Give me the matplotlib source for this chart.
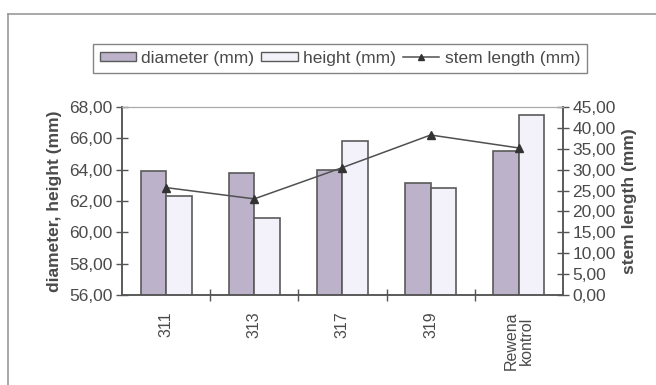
import matplotlib.pyplot as plt
import numpy as np
from matplotlib.lines import Line2D
from matplotlib.patches import Patch
from matplotlib.ticker import FuncFormatter, FixedLocator

plt.rcParams['font.family'] = ['Liberation Sans', 'DejaVu Sans']

categories = ['311', '313', '317', '319', 'Rewena\nkontrol']
diameter = [63.9, 63.8, 63.95, 63.15, 65.2]
height = [62.3, 60.9, 65.85, 62.8, 67.5]
stem_length = [25.7, 23.0, 30.5, 38.3, 35.2]

TXT = '#4a4a4a'
AX = '#555555'
C_DIAM = '#bcb2ca'
C_HEIGHT = '#f3f1fa'


def comma(v, pos):
    return f'{v:.2f}'.replace('.', ',')


fig = plt.figure(figsize=(6.56, 3.85), dpi=100)
ax = fig.add_axes([0.186, 0.234, 0.672, 0.488])
ax2 = ax.twinx()

x = np.arange(len(categories))
w = 0.29
ax.bar(x - w / 2, diameter, w, bottom=0, color=C_DIAM, edgecolor='#5a5a5a', linewidth=1.2, zorder=2)
ax.bar(x + w / 2, height, w, bottom=0, color=C_HEIGHT, edgecolor='#5a5a5a', linewidth=1.2, zorder=2)
ax2.plot(x, stem_length, color='#505050', lw=1.1, marker='^', ms=6, mfc='#333333', mec='#333333', zorder=3)

ax.set_xlim(-0.5, len(categories) - 0.5)
ax.set_ylim(56, 68)
ax2.set_ylim(0, 45)
ax.set_yticks(np.arange(56, 68.1, 2))
ax2.set_yticks(np.arange(0, 45.1, 5))
ax.yaxis.set_major_formatter(FuncFormatter(comma))
ax2.yaxis.set_major_formatter(FuncFormatter(comma))

# category labels at the centres, tick marks on the group boundaries
ax.set_xticks(x)
ax.set_xticklabels(categories, rotation=90, va='top', ha='center', linespacing=1.0)
ax.xaxis.set_minor_locator(FixedLocator(np.arange(0.5, len(categories) - 0.5, 1)))
ax.tick_params(axis='x', which='major', length=0, pad=12, labelsize=11.5, labelcolor=TXT)
ax.tick_params(axis='x', which='minor', direction='inout', length=8, color=AX, width=1)
ax.tick_params(axis='y', direction='inout', length=8, color=AX, width=1, labelsize=12.5, labelcolor=TXT, pad=3)
ax2.tick_params(axis='y', direction='inout', length=8, color=AX, width=1, labelsize=12.5, labelcolor=TXT, pad=3)

for a in (ax, ax2):
    a.spines['top'].set_color('#aaaaaa')
    a.spines['top'].set_linestyle((0, (1, 1)))
    a.spines['left'].set_color(AX)
    a.spines['bottom'].set_color(AX)
    a.spines['right'].set_color(AX)
    for s in ('left', 'bottom', 'right'):
        a.spines[s].set_linewidth(1.1)

ax.set_ylabel('diameter, height (mm)', fontsize=12.5, fontweight='bold', color=TXT, labelpad=5)
ax2.set_ylabel('stem length (mm)', fontsize=12.5, fontweight='bold', color=TXT, labelpad=4)

handles = [
    Patch(facecolor=C_DIAM, edgecolor='#5a5a5a', linewidth=1.0),
    Patch(facecolor=C_HEIGHT, edgecolor='#5a5a5a', linewidth=1.0),
    Line2D([], [], color='#505050', lw=1.1, marker='^', ms=5, mfc='#333333', mec='#333333'),
]
leg = fig.legend(handles, ['diameter (mm)', 'height (mm)', 'stem length (mm)'],
                 loc='center', bbox_to_anchor=(0.518, 0.849), ncol=3, frameon=True,
                 fancybox=False, edgecolor='#666666', fontsize=12.5, handlelength=2.1,
                 handleheight=0.45, handletextpad=0.3, columnspacing=0.4,
                 borderpad=0.4, labelcolor=TXT)
leg.get_frame().set_linewidth(1.0)

# outer chart frame (left and top edges)
fig.add_artist(Line2D([0.012, 0.012], [0.0, 0.964], color='#999999', lw=1.2))
fig.add_artist(Line2D([0.012, 1.0], [0.964, 0.964], color='#999999', lw=1.2))

fig.savefig('out.png', dpi=100)
